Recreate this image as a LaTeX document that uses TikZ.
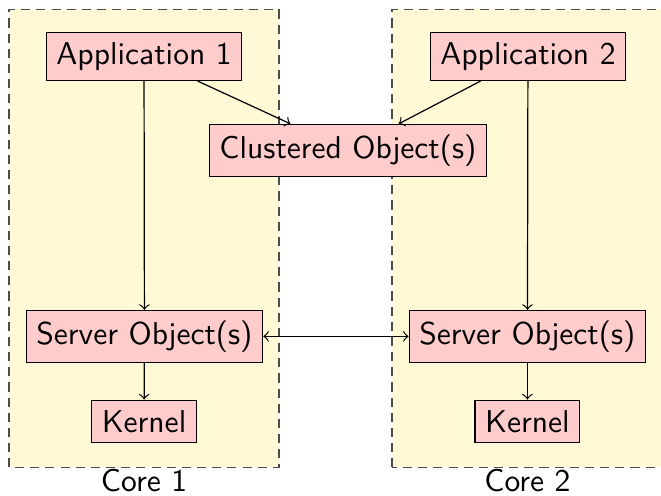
\documentclass[tikz,border=0pt]{standalone}
\usepackage{tikz}
\usetikzlibrary{arrows}
\definecolor{corebg}{HTML}{FFF9D6}

\tikzset{
  part/.style={draw, fill=red!20, font=\sffamily\fontsize{10.4pt}{12.5pt}\selectfont},
  coreframe/.style={draw=black!70, densely dashed, fill=corebg},
  corelabel/.style={font=\sffamily\fontsize{10.4pt}{12.5pt}\selectfont}
}

\begin{document}
\begin{tikzpicture}
  \useasboundingbox (0,0) rectangle (7.66,5.74);

  % Core areas
  \draw[coreframe] (0.104,0.324) rectangle (3.233,5.63);
  \draw[coreframe] (4.542,0.324) rectangle (7.70,5.63);
  \node[corelabel] (core1) at (1.669,0.174) {Core 1};
  \node[corelabel] (core2) at (6.112,0.174) {Core 2};

  % Objects on each core
  \node[part] (app1) at (1.669,5.087) {Application 1};
  \node[part] (app2) at (6.118,5.087) {Application 2};
  \node[part] (clust) at (4.032,3.998) {Clustered Object(s)};
  \node[part] (srv1) at (1.674,1.842) {Server Object(s)};
  \node[part] (srv2) at (6.112,1.842) {Server Object(s)};
  \node[part] (kern1) at (1.669,0.857) {Kernel};
  \node[part] (kern2) at (6.112,0.857) {Kernel};

  % Calls
  \draw[->] (app1) -- (clust);
  \draw[->] (app2) -- (clust);
  \draw[->] (app1) -- (srv1);
  \draw[->] (app2) -- (srv2);
  \draw[<->] (srv1) -- (srv2);
  \draw[->] (srv1) -- (kern1);
  \draw[->] (srv2) -- (kern2);
\end{tikzpicture}
\end{document}
